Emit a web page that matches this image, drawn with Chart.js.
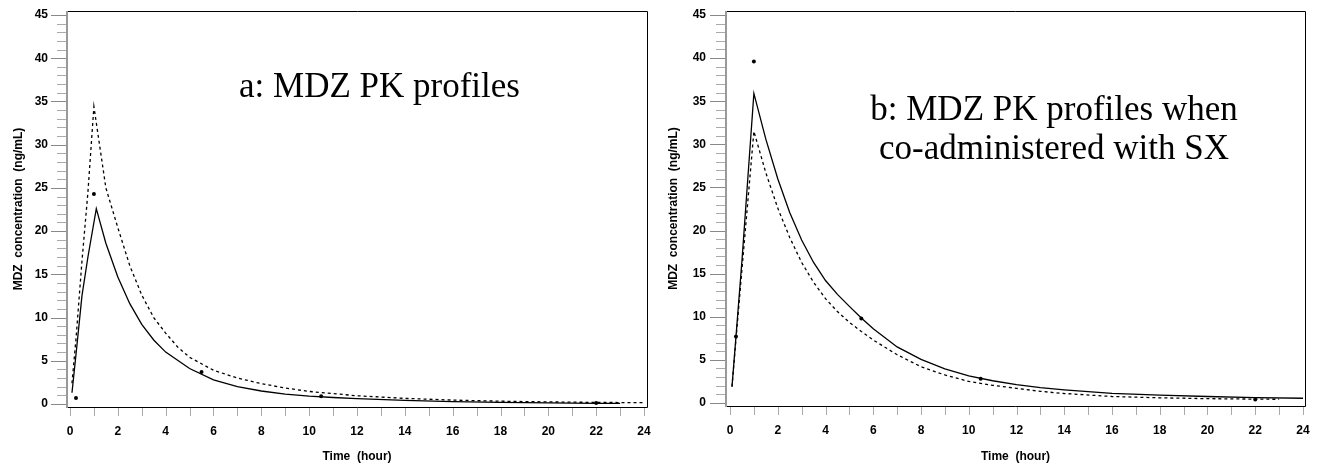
<!DOCTYPE html>
<html>
<head>
<meta charset="utf-8">
<script src="https://cdn.jsdelivr.net/npm/chart.js@4"></script>
<style>
  body { margin: 0; background: #fff; }
  .panel { position: absolute; top: 0; height: 467px; }
  #panelA { left: 0; width: 655px; }
  #panelB { left: 655px; width: 662px; }
  .note { position: absolute; font-family: "Liberation Serif", "Times New Roman", serif; font-size: 35px; line-height: 39px; color: #000; white-space: nowrap; }
</style>
</head>
<body>
<div class="panel" id="panelA"><canvas id="chartA"></canvas></div>
<div class="panel" id="panelB"><canvas id="chartB"></canvas></div>
<div class="note" style="left:239px; top:66px;">a: MDZ PK profiles</div>
<div class="note" style="left:854px; top:89px; width:400px; text-align:center;">b: MDZ PK profiles when<br>co-administered with SX</div>
<script>
// tick labels
const xTickValues = [0, 2, 4, 6, 8, 10, 12, 14, 16, 18, 20, 22, 24];
const yTickValues = [0, 5, 10, 15, 20, 25, 30, 35, 40, 45];

// panel a: predicted profiles (solid / dashed) and observed points
const timeASolid = [0.083, 0.25, 0.5, 0.75, 1.1, 1.5, 2, 2.5, 3, 3.5, 4, 5, 6, 7, 8, 9, 10, 11, 12, 14, 16, 18, 20, 22, 23];
const concASolid = [1.3, 5.7, 12.5, 17.0, 22.6, 18.6, 14.7, 11.6, 9.2, 7.4, 6.0, 4.1, 2.8, 2.0, 1.5, 1.15, 0.9, 0.75, 0.62, 0.42, 0.28, 0.18, 0.12, 0.08, 0.06];
const timeADash = [0.083, 0.25, 0.5, 0.75, 1, 1.5, 2, 2.5, 3, 3.5, 4, 4.5, 5, 6, 7, 8, 9, 10, 11, 12, 14, 16, 18, 20, 22, 24];
const concADash = [2.4, 7.5, 16.5, 24.5, 34.4, 25.0, 20.4, 16.0, 12.6, 10.0, 8.2, 6.6, 5.4, 3.9, 3.0, 2.35, 1.85, 1.45, 1.2, 0.95, 0.65, 0.45, 0.32, 0.24, 0.18, 0.15];
const timeAObs = [0.25, 1, 5.5, 10.5, 22];
const concAObs = [0.7, 24.3, 3.7, 0.9, 0.1];

// panel b: co-administered with SX
const timeBSolid = [0.083, 0.25, 0.5, 0.75, 1, 1.5, 2, 2.5, 3, 3.5, 4, 4.5, 5, 5.5, 6, 7, 8, 9, 10, 11, 12, 13, 14, 16, 18, 20, 22, 24];
const concBSolid = [1.9, 7.7, 16.5, 26.2, 35.9, 30.6, 26.0, 22.1, 18.9, 16.3, 14.2, 12.6, 11.2, 9.85, 8.6, 6.5, 5.05, 3.95, 3.15, 2.58, 2.12, 1.78, 1.52, 1.12, 0.9, 0.75, 0.63, 0.55];
const timeBDash = [0.083, 0.25, 0.5, 0.75, 1, 1.5, 2, 2.5, 3, 3.5, 4, 4.5, 5, 5.5, 6, 7, 8, 9, 10, 11, 12, 13, 14, 16, 18, 20, 22, 23];
const concBDash = [1.9, 7.4, 15.5, 23.5, 31.5, 26.7, 22.6, 19.2, 16.3, 14.0, 12.1, 10.6, 9.35, 8.3, 7.3, 5.6, 4.2, 3.25, 2.5, 2.05, 1.7, 1.35, 1.1, 0.75, 0.6, 0.5, 0.45, 0.43];
const timeBObs = [0.25, 1, 5.5, 10.5, 22];
const concBObs = [7.7, 39.6, 9.8, 2.8, 0.4];

const toXY = (ts, cs) => ts.map((t, i) => ({ x: t, y: cs[i] }));
const axisFont = { family: "'Liberation Sans Narrow', 'Liberation Sans', Arial, sans-serif", size: 12, weight: 'bold' };

// frame, axis line and tick marks drawn from the chart's own scales
const framePlugin = {
    id: 'frame',
    afterDraw(chart) {
        const { ctx, chartArea: { left, right, top, bottom }, scales: { x, y } } = chart;
        ctx.save();
        ctx.strokeStyle = '#000';
        ctx.lineWidth = 1;
        ctx.beginPath();
        ctx.moveTo(left, top + 0.5); ctx.lineTo(right + 0.5, top + 0.5);
        ctx.lineTo(right + 0.5, bottom + 0.5); ctx.lineTo(left, bottom + 0.5);
        ctx.stroke();
        // y ticks: major every 5, minor every 1
        for (let v = 0; v <= 45; v++) {
            const py = Math.round(y.getPixelForValue(v)) + 0.5;
            const len = v % 5 === 0 ? 16 : 10;
            ctx.strokeStyle = v % 5 === 0 ? '#888' : '#aaa';
            ctx.beginPath(); ctx.moveTo(left - len, py); ctx.lineTo(left, py); ctx.stroke();
        }
        // x ticks every hour
        ctx.strokeStyle = '#aaa';
        for (let v = 0; v <= 24; v++) {
            const px = Math.round(x.getPixelForValue(v)) + 0.5;
            ctx.beginPath(); ctx.moveTo(px, bottom + 1); ctx.lineTo(px, bottom + 9); ctx.stroke();
        }
        // left axis line
        ctx.strokeStyle = '#999';
        ctx.lineWidth = 2;
        ctx.beginPath(); ctx.moveTo(left, top); ctx.lineTo(left, bottom + 1); ctx.stroke();
        ctx.restore();
    }
};

function fixScale(scale, size) {
    if (scale.isHorizontal()) scale.height = size; else scale.width = size;
    scale.paddingTop = 0; scale.paddingBottom = 0;
    scale.paddingLeft = 0; scale.paddingRight = 0;
}

function makeChart(id, solid, dash, obs, geom) {
    return new Chart(document.getElementById(id).getContext('2d'), {
        type: 'scatter',
        data: {
            datasets: [{
                data: solid,
                showLine: true,
                borderColor: '#000',
                borderWidth: 1.3,
                pointRadius: 0,
                tension: 0
            }, {
                data: dash,
                showLine: true,
                borderColor: '#000',
                borderWidth: 1.3,
                borderDash: [3, 3],
                pointRadius: 0,
                tension: 0
            }, {
                data: obs,
                showLine: false,
                pointRadius: 2,
                pointBackgroundColor: '#000',
                pointBorderWidth: 0
            }]
        },
        options: {
            responsive: true,
            maintainAspectRatio: false,
            animation: false,
            events: [],
            layout: { padding: { top: geom.padTop, right: geom.padRight, left: 0, bottom: 0 } },
            plugins: { legend: { display: false }, tooltip: { enabled: false } },
            scales: {
                x: {
                    type: 'linear',
                    min: geom.xMin,
                    max: geom.xMax,
                    afterBuildTicks: (axis) => { axis.ticks = xTickValues.map(v => ({ value: v })); },
                    afterFit: (scale) => fixScale(scale, geom.xAxisHeight),
                    ticks: { color: '#000', font: axisFont, padding: 17, maxRotation: 0, autoSkip: false },
                    grid: { display: false, drawTicks: false },
                    border: { display: false },
                    title: { display: true, text: 'Time  (hour)', color: '#000', font: axisFont, padding: { bottom: 3 } }
                },
                y: {
                    type: 'linear',
                    min: geom.yMin,
                    max: geom.yMax,
                    afterBuildTicks: (axis) => { axis.ticks = yTickValues.map(v => ({ value: v })); },
                    afterFit: (scale) => fixScale(scale, geom.yAxisWidth),
                    ticks: { color: '#000', font: axisFont, padding: geom.yLabelPad, autoSkip: false },
                    grid: { display: false, drawTicks: false },
                    border: { display: false },
                    title: { display: true, text: 'MDZ  concentration  (ng/mL)', color: '#000', font: axisFont, padding: { top: 11 } }
                }
            }
        },
        plugins: [framePlugin]
    });
}

makeChart('chartA', toXY(timeASolid, concASolid), toXY(timeADash, concADash), toXY(timeAObs, concAObs), {
    padTop: 11, padRight: 8, yAxisWidth: 67, xAxisHeight: 60, yLabelPad: 19,
    xMin: -0.125, xMax: 24.125, yMin: -0.35, yMax: 45.46
});
makeChart('chartB', toXY(timeBSolid, concBSolid), toXY(timeBDash, concBDash), toXY(timeBObs, concBObs), {
    padTop: 11, padRight: 12, yAxisWidth: 71, xAxisHeight: 61, yLabelPad: 20,
    xMin: -0.168, xMax: 24.084, yMin: -0.35, yMax: 45.46
});
</script>
</body>
</html>
